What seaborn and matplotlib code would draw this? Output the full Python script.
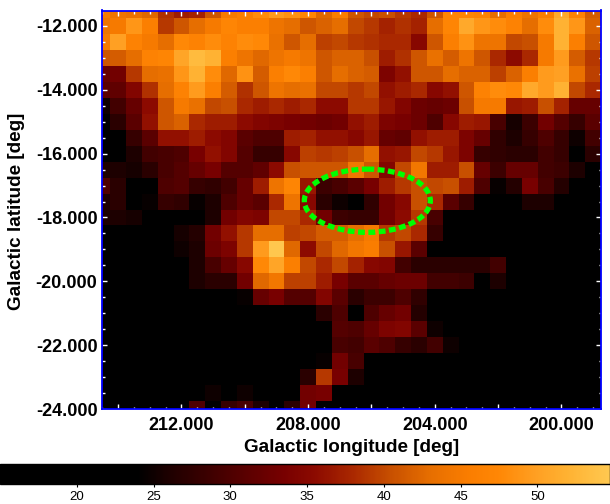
import numpy as np
import pandas as pd
import matplotlib
matplotlib.use('Agg')
import matplotlib.pyplot as plt
import seaborn as sns
from matplotlib.colors import LinearSegmentedColormap
from matplotlib.patches import Ellipse

# Pixel centres of the map
lon_values = [214.5 - 0.5 * i for i in range(32)]
lat_values = [-11.5 - 0.5 * i for i in range(26)]

# Map values, one list per latitude row (top to bottom)
row_00 = [45, 44, 43.5, 42.5, 38.5, 37, 37.5, 41, 45, 46, 48, 49.5, 48.5, 47, 42.5, 45.5, 41, 40, 40.5, 39, 38, 41, 47, 47, 46.5, 43, 46, 44, 46, 51, 46.5, 41.5]
row_01 = [44, 45, 49, 46, 39, 41, 43, 45, 47, 46, 46, 44, 43, 41, 42, 43, 40, 39, 37.5, 38.5, 37.5, 43, 47, 51, 49, 48, 46.5, 43, 48, 52, 49, 42]
row_02 = [45, 50, 46.5, 45, 43, 47.5, 46.5, 48, 46.5, 48, 47.5, 43.5, 41, 43, 39.5, 40, 39, 38.5, 38, 38, 35, 41, 46, 48.5, 44, 44, 40, 40.5, 45, 52, 46, 41]
row_03 = [41, 41.5, 43, 46.5, 47, 50.5, 53, 52, 46, 44, 42.5, 44, 45, 44, 41, 42, 42, 40.5, 37, 38.5, 41, 43.5, 41.5, 44, 41, 38, 35.5, 38, 45, 49.5, 41.5, 39]
row_04 = [32, 33, 39, 43, 43.5, 49, 52, 48, 42.5, 48.5, 41.5, 46, 47.5, 46, 41, 43, 42, 41.5, 34, 36, 41, 41, 43, 42, 42, 39.5, 42, 46, 49.5, 50, 43.5, 39.5]
row_05 = [31, 31.5, 34.5, 38.5, 43, 46.5, 49.5, 46, 41.5, 38.5, 41, 44, 43, 43.5, 40, 40, 39, 40, 36, 37, 38, 35, 36, 41, 46.5, 48, 47.5, 51, 49.5, 52, 40, 38]
row_06 = [25, 29, 32, 35.5, 41, 45, 43.5, 40, 40.5, 38, 37, 38, 37, 38, 35.5, 35.5, 39, 39, 36.5, 34.5, 32.5, 32, 32.5, 40.5, 45, 45, 36.5, 37, 40.5, 37.5, 32, 32]
row_07 = [21, 27, 31, 36, 41, 42, 38, 37, 37, 35.5, 34.5, 34, 33.5, 33, 32.5, 33, 36, 37, 34, 33.5, 32.5, 30, 35, 37, 36.5, 29.5, 25.5, 28.5, 33, 30.5, 28, 31]
row_08 = [21, 22, 28, 31, 36, 36, 37, 35.5, 34.5, 31, 30, 30, 37, 37.5, 36, 36, 35, 36.5, 32, 31.5, 36, 37, 37, 34, 32, 27.5, 26, 28, 30, 28, 25, 29]
row_09 = [21, 21, 26, 29, 29.5, 30, 33.5, 36, 34.5, 30.5, 28, 28, 35, 39.5, 39, 39.5, 40.5, 43, 36, 36.5, 40, 39, 36.5, 34, 28, 27.5, 27, 27, 29, 28, 24, 27]
row_10 = [26, 26, 25.5, 27, 29.5, 30.5, 32, 33.5, 30.5, 30.5, 31.5, 35.5, 40.5, 41, 41, 41, 44.5, 41, 34.5, 40, 44.5, 37, 37, 40.5, 32, 28.5, 32, 32, 29, 28.5, 26, 23]
row_11 = [30, 27, 20, 23, 30, 30.5, 28, 27.5, 29, 32, 37, 44, 47, 36.5, 28.5, 29.5, 31, 33.5, 37, 39, 40.5, 40, 40.5, 37, 30, 24.5, 26.5, 33.5, 29.5, 26.5, 23.5, 23]
row_12 = [26, 27, 23, 24.5, 28, 27.5, 24.5, 26, 30, 32, 31, 38, 44, 35, 27, 25, 24, 27.5, 33, 35, 40.5, 38, 31, 28, 24, 21, 21, 26, 26, 21, 21, 21]
row_13 = [26, 26, 25.5, 21, 21, 22, 22, 26, 33, 34.5, 34, 40, 40, 38, 33, 28.5, 28, 28, 33, 35.5, 39, 29.5, 23, 21, 21, 21, 21, 21, 23, 21, 21, 21]
row_14 = [21, 23, 23, 20, 23.5, 25.5, 26.5, 33, 36, 39, 43, 43, 39.5, 40, 41.5, 41.5, 43, 45, 39, 40, 38, 28, 20, 20, 20, 20, 20, 20, 20, 20, 20, 20]
row_15 = [20, 20, 20, 20, 20, 25, 26, 32.5, 34, 39, 49.5, 54.5, 42.5, 35.5, 40, 42.5, 44.5, 45.5, 40.5, 36.5, 31, 20, 20, 20, 20, 20, 20, 20, 20, 20, 20, 20]
row_16 = [20, 20, 20, 20, 20, 20, 26, 29.5, 32, 35, 47.5, 50.5, 46, 40, 38, 40, 37.5, 35, 34.5, 29, 27, 27, 27, 27, 27, 29, 23, 20, 20, 20, 20, 20]
row_17 = [20, 20, 20, 20, 20, 20, 26, 27, 27, 33, 42.5, 44.5, 39.5, 39.5, 37, 33.5, 31, 31, 32, 32.5, 32.5, 29, 29, 28.5, 20, 26, 20, 20, 20, 20, 20, 20]
row_18 = [20, 20, 20, 20, 20, 20, 20, 20, 20, 24.5, 32, 33.5, 30.5, 30.5, 34.5, 31, 27, 28.5, 28.5, 30, 27.5, 21, 20, 20, 20, 20, 20, 20, 20, 20, 20, 20]
row_19 = [20, 20, 20, 20, 20, 20, 20, 20, 20, 20, 20, 20, 20, 20, 27, 30, 23, 30, 32, 33, 26.5, 21, 20, 20, 20, 20, 20, 20, 20, 20, 20, 20]
row_20 = [20, 20, 20, 20, 20, 20, 20, 20, 20, 20, 20, 20, 20, 20, 20, 30.5, 30, 32, 34, 34.5, 31, 25, 20, 20, 20, 20, 20, 20, 20, 20, 20, 20]
row_21 = [20, 20, 20, 20, 20, 20, 20, 20, 20, 20, 20, 20, 20, 20, 20, 29.5, 29, 31, 30, 28, 27, 29, 25, 20, 20, 20, 20, 20, 20, 20, 20, 20]
row_22 = [20, 20, 20, 20, 20, 20, 20, 20, 20, 20, 20, 20, 20, 20, 24.5, 33, 29.5, 23, 20, 20, 20, 20, 22, 20, 20, 20, 20, 20, 20, 20, 20, 20]
row_23 = [20, 20, 20, 20, 20, 20, 20, 20, 20, 20, 20, 20, 20, 27, 39, 33.5, 26, 20, 20, 20, 20, 20, 20, 20, 20, 20, 20, 20, 20, 20, 20, 20]
row_24 = [20, 20, 20, 20, 20, 20, 20, 25, 24, 25, 22.5, 20, 20, 33, 33.5, 22.5, 20, 20, 20, 20, 20, 20, 20, 20, 20, 20, 20, 20, 20, 20, 20, 20]
row_25 = [20, 20, 20, 20, 20, 20, 30, 23.5, 28, 29.5, 26, 23, 27, 33, 24, 20, 20, 20, 20, 20, 20, 20, 20, 20, 20, 20, 20, 20, 20, 20, 20, 20]

lon_labelled = [212, 208, 204, 200]
lon_major = [214, 212, 210, 208, 206, 204, 202, 200]
lat_major = [-12, -14, -16, -18, -20, -22, -24]
cbar_ticks = [20, 25, 30, 35, 40, 45, 50]

# Colour scale of the map
vmin, vmax = 15.0, 54.7
stops = [(15.0, (0, 0, 0)), (24, (0, 0, 0)), (26, (30, 0, 0)), (28.5, (60, 0, 0)), (31, (90, 0, 0)),
         (33.5, (120, 0, 0)), (35.5, (140, 10, 0)), (38, (170, 40, 0)), (40.5, (200, 80, 0)),
         (43, (230, 110, 0)), (45.5, (250, 125, 0)), (47.5, (255, 135, 5)), (50, (255, 160, 35)),
         (52, (255, 178, 50)), (54.7, (255, 200, 80))]
heat = LinearSegmentedColormap.from_list(
    'heat', [((v - vmin) / (vmax - vmin), tuple(c / 255 for c in col)) for v, col in stops], N=512)

grid = pd.DataFrame([row_00, row_01, row_02, row_03, row_04, row_05, row_06, row_07, row_08, row_09,
                     row_10, row_11, row_12, row_13, row_14, row_15, row_16, row_17, row_18, row_19,
                     row_20, row_21, row_22, row_23, row_24, row_25], index=lat_values, columns=lon_values)


# heatmap cells sit at 0..n, so convert degrees into cell positions
def lon_to_x(lon):
    return (214.5 - np.asarray(lon)) * 2 + 0.5


def lat_to_y(lat):
    return (-11.5 - np.asarray(lat)) * 2 + 0.5


plt.rcParams['font.family'] = ['Liberation Sans', 'DejaVu Sans']

W, H = 610, 504
fig = plt.figure(figsize=(W / 100, H / 100), dpi=100)
ax = fig.add_axes([102.3 / W, 1 - 409 / H, (601 - 102.3) / W, (409 - 10.5) / H])
cax = fig.add_axes([0, 1 - 484 / H, 609.5 / W, 20 / H])

sns.heatmap(grid, cmap=heat, vmin=vmin, vmax=vmax, ax=ax, cbar_ax=cax,
            cbar_kws={'orientation': 'horizontal'}, xticklabels=False, yticklabels=False)
ax.set_xlim(0.83, 32)
ax.set_ylim(25.44, 0.53)

for s in ax.spines.values():
    s.set_visible(True)
    s.set_color('#0000ff')
    s.set_linewidth(1.3)

# white inward ticks on all sides
x_major = lon_to_x(lon_major)
x_minor = lon_to_x(np.arange(199, 215, 0.5))
y_major = lat_to_y(lat_major)
y_minor = lat_to_y(np.arange(-24, -11.5, 0.5))
ax.set_xticks(x_major)
ax.set_xticks(x_minor, minor=True)
ax.set_yticks(y_major)
ax.set_yticks(y_minor, minor=True)
ax.set_xticklabels(['%.3f' % v if v in lon_labelled else '' for v in lon_major], fontsize=13, fontweight='bold', rotation=0)
ax.set_yticklabels(['%.3f' % v for v in lat_major], fontsize=13, fontweight='bold', rotation=0)
ax.tick_params(which='major', direction='in', length=3.8, width=1, color='white', top=True, right=True, left=True, bottom=True, pad=3.5)
ax.tick_params(axis='x', which='major', pad=5.5)
ax.tick_params(which='minor', direction='in', length=1.8, width=1, color='white', top=True, right=True, left=True, bottom=True)
ax.set_xlabel('Galactic longitude [deg]', fontsize=13.6, fontweight='bold', labelpad=3.5)
ax.set_ylabel('Galactic latitude [deg]', fontsize=13.6, fontweight='bold', labelpad=8, y=0.495)

# dashed green ring around the cavity
ring = Ellipse((lon_to_x(206.13), lat_to_y(-17.475)), 7.96, 3.96, fill=False, edgecolor='#00ff00',
               linewidth=3.8, linestyle=(0, (1.3, 0.66)))
ax.add_patch(ring)

cbar = ax.collections[0].colorbar
cbar.set_ticks(cbar_ticks)
cbar.ax.tick_params(length=1.8, width=0.8, color='black', labelsize=9.5, pad=3.5)
cbar.outline.set_edgecolor('black')
cbar.outline.set_linewidth(1)

fig.savefig('out.png', dpi=100)
